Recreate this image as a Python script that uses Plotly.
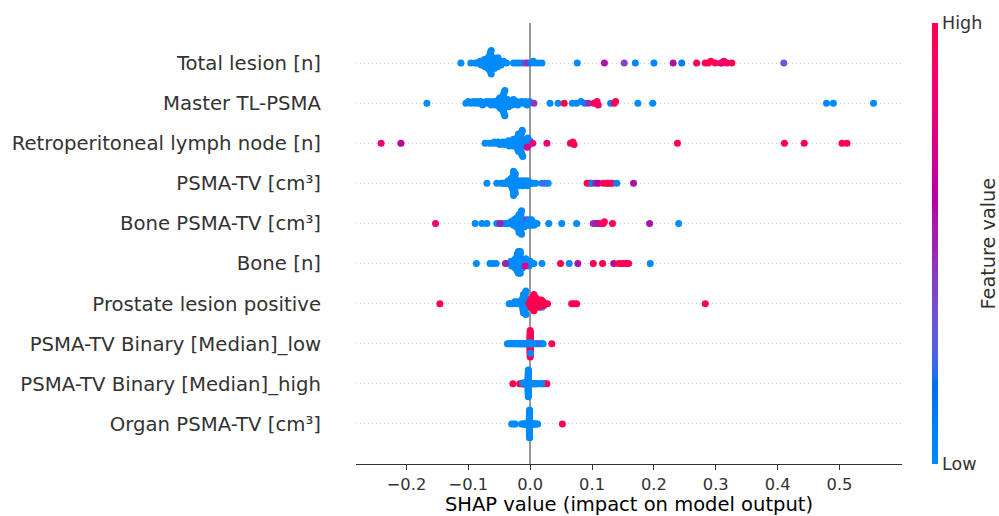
import numpy as np
import plotly.graph_objects as go

# ---------------- data ----------------
features = [
    "Total lesion [n]",
    "Master TL-PSMA",
    "Retroperitoneal lymph node [n]",
    "PSMA-TV [cm³]",
    "Bone PSMA-TV [cm³]",
    "Bone [n]",
    "Prostate lesion positive",
    "PSMA-TV Binary [Median]_low",
    "PSMA-TV Binary [Median]_high",
    "Organ PSMA-TV [cm³]",
]

x_ticks = [-0.2, -0.1, 0.0, 0.1, 0.2, 0.3, 0.4, 0.5]
x_tick_labels = ["−0.2", "−0.1", "0.0", "0.1", "0.2", "0.3", "0.4", "0.5"]

total_lesion_shap = [
    -0.089, -0.086, -0.083, -0.081, -0.079, -0.078, -0.076, -0.075, -0.074, -0.073,
    -0.072, -0.071, -0.070, -0.070, -0.069, -0.068, -0.068, -0.067, -0.067, -0.066,
    -0.066, -0.066, -0.066, -0.065, -0.065, -0.065, -0.065, -0.064, -0.064, -0.063,
    -0.063, -0.062, -0.062, -0.061, -0.060, -0.060, -0.059, -0.058, -0.057, -0.056,
    -0.055, -0.054, -0.053, -0.052, -0.050, -0.049, -0.047, -0.045, -0.043,
    -0.038, -0.027, -0.022, -0.018, -0.013, -0.008, -0.004, 0.001, 0.005, 0.008, 0.013,
    -0.112, -0.096,
    0.019, 0.076, 0.120, 0.152, 0.170, 0.200, 0.231, 0.245, 0.269, 0.283,
    0.288, 0.292, 0.299, 0.308, 0.310, 0.313, 0.318, 0.326, 0.410,
]
total_lesion_feat = [
    0, 0, 0, 0, 0, 0, 0, 0, 0, 0,
    0, 0, 0, 0, 0, 0, 0, 0, 0, 0,
    0, 0, 0, 0, 0, 0, 0, 0, 0, 0,
    0, 0, 0, 0, 0, 0, 0, 0, 0, 0,
    0, 0, 0, 0, 0, 0, 0, 0, 0,
    0, 0, 0, 0, 0, 0.4, 0.45, 0.1, 0, 0, 0,
    0, 0,
    0, 0, 0.55, 0.4, 0.05, 0.05, 0.55, 0.1, 1, 1,
    0.95, 1, 0.95, 0.85, 0.8, 0.9, 0.95, 1, 0.3,
]

master_shap = [
    -0.104, -0.100, -0.096, -0.092, -0.089, -0.086, -0.083, -0.080, -0.077,
    -0.074, -0.071, -0.068, -0.065, -0.063, -0.061, -0.059, -0.057, -0.055, -0.054,
    -0.052, -0.051, -0.050, -0.049, -0.048, -0.047, -0.046, -0.046, -0.045, -0.045,
    -0.044, -0.044, -0.044, -0.043, -0.043, -0.043, -0.042, -0.042, -0.041, -0.041,
    -0.040, -0.039, -0.038, -0.037, -0.035, -0.033, -0.031, -0.029, -0.027, -0.025,
    -0.022, -0.020, -0.017, -0.014, -0.011, -0.008, -0.005, -0.003, -0.001,
    -0.167, 0.006, 0.032, 0.045, 0.055, 0.068, 0.075, 0.082, 0.088, 0.094,
    0.103, 0.106, 0.108, 0.110, 0.130, 0.136, 0.138, 0.174, 0.198, 0.479,
    0.490, 0.555,
]
master_feat = [
    0, 0, 0, 0, 0, 0, 0, 0, 0,
    0, 0, 0, 0, 0, 0, 0, 0, 0, 0,
    0, 0, 0, 0, 0, 0, 0, 0, 0, 0,
    0, 0, 0, 0, 0, 0, 0, 0, 0, 0,
    0, 0, 0, 0, 0, 0, 0, 0, 0, 0,
    0, 0, 0, 0, 0, 0, 0, 0, 0,
    0, 0.45, 0, 0, 1, 0, 0, 0, 0.05, 0.45,
    1, 0.95, 1, 0.9, 0.05, 0.95, 1, 0, 0, 0,
    0, 0,
]

retro_shap = [
    -0.073, -0.066, -0.061, -0.058, -0.055, -0.052, -0.049, -0.046, -0.044, -0.042,
    -0.040, -0.038, -0.036, -0.035, -0.034, -0.032, -0.031,
    -0.030, -0.029, -0.028, -0.027, -0.026, -0.025, -0.024, -0.023,
    -0.022, -0.022, -0.021, -0.021, -0.020, -0.020, -0.020, -0.019, -0.019, -0.019,
    -0.018, -0.018, -0.018, -0.018, -0.017, -0.017, -0.017, -0.017,
    -0.016, -0.016, -0.016, -0.016, -0.015, -0.015, -0.015,
    -0.014, -0.014, -0.013, -0.013, -0.013, -0.012, -0.011, -0.010,
    -0.009, -0.008, -0.007, -0.006, -0.004, -0.003, -0.002, -0.001, -0.0005,
    -0.241, -0.209, -0.005, 0.004, 0.027, 0.065, 0.069, 0.071, 0.238, 0.411,
    0.443, 0.504, 0.512,
]
retro_feat = [
    0, 0, 0, 0, 0, 0, 0, 0, 0, 0,
    0, 0, 0, 0, 0, 0, 0,
    0, 0, 0, 0, 0, 0, 0, 0,
    0, 0, 0, 0, 0, 0, 0, 0, 0, 0,
    0, 0, 0, 0, 0, 0, 0, 0,
    0, 0, 0, 0, 0, 0, 0,
    0, 0, 0, 0, 0, 0, 0, 0,
    0, 0, 0, 0, 0, 0, 0, 0, 0,
    0.85, 0.6, 0.7, 0.8, 0.85, 1, 0.95, 1, 1, 1,
    1, 1, 1,
]

psma_tv_shap = [
    -0.047, -0.044, -0.042, -0.040, -0.038, -0.036, -0.035, -0.034, -0.033, -0.032,
    -0.031, -0.031, -0.030, -0.030, -0.029, -0.029, -0.029, -0.028, -0.028, -0.028, -0.028,
    -0.027, -0.027, -0.027, -0.027, -0.027, -0.027, -0.027,
    -0.026, -0.026, -0.026, -0.026, -0.025, -0.025, -0.025, -0.024, -0.024, -0.023, -0.023,
    -0.022, -0.021, -0.020, -0.019, -0.018, -0.017, -0.016, -0.015, -0.014, -0.013,
    -0.012, -0.011, -0.010, -0.009, -0.008, -0.007, -0.006, -0.005, -0.004, -0.003,
    -0.001, 0.002, 0.005, 0.009,
    -0.070, -0.054, 0.019, 0.024, 0.029, 0.092, 0.097, 0.100, 0.106, 0.110,
    0.118, 0.123, 0.126, 0.129, 0.133, 0.140, 0.167,
]
psma_tv_feat = [
    0, 0, 0, 0, 0, 0, 0, 0, 0, 0,
    0, 0, 0, 0, 0, 0, 0, 0, 0, 0, 0,
    0, 0, 0, 0, 0, 0, 0,
    0, 0, 0, 0, 0, 0, 0, 0, 0, 0, 0,
    0, 0, 0, 0, 0, 0, 0, 0, 0, 0,
    0, 0, 0, 0, 0, 0, 0, 0, 0, 0,
    0, 0, 0, 0,
    0, 0, 0, 0.3, 0, 1, 0.95, 0.05, 0.5, 0.6,
    1, 0.95, 1, 1, 0.9, 0.05, 0.55,
]

bone_psma_tv_shap = [
    -0.045, -0.041, -0.038, -0.035, -0.033, -0.031, -0.029, -0.028, -0.027, -0.026,
    -0.025, -0.024, -0.023, -0.023, -0.022, -0.022, -0.021, -0.021, -0.020, -0.020,
    -0.019, -0.019, -0.019, -0.018, -0.018, -0.018, -0.018,
    -0.017, -0.017, -0.017, -0.017, -0.017,
    -0.016, -0.016, -0.016, -0.016, -0.015, -0.015, -0.015, -0.014, -0.014, -0.013, -0.013,
    -0.012, -0.011, -0.010, -0.009, -0.008, -0.007, -0.006, -0.005, -0.004, -0.003,
    -0.002, -0.001, 0.000, 0.001, 0.002, 0.003, 0.004, 0.006,
    -0.153, -0.089, -0.078, -0.070, -0.054, -0.049, 0.011, 0.030, 0.051, 0.075,
    0.102, 0.106, 0.110, 0.115, 0.118, 0.120, 0.133, 0.193, 0.240,
]
bone_psma_tv_feat = [
    0, 0, 0, 0, 0, 0, 0, 0, 0, 0,
    0, 0, 0, 0, 0, 0, 0, 0, 0, 0,
    0, 0, 0, 0, 0, 0, 0,
    0, 0, 0, 0, 0,
    0, 0, 0, 0, 0, 0, 0, 0, 0, 0, 0,
    0, 0, 0, 0, 0, 0, 0.45, 0, 0, 0,
    0, 0, 0, 0, 0, 0, 0, 0,
    0.85, 0, 0, 0, 0, 0.5, 0, 0, 0, 0,
    0.45, 0.5, 0.55, 0.9, 1, 0.95, 1, 0.55, 0,
]

bone_shap = [
    -0.036, -0.034, -0.032, -0.031, -0.030, -0.029, -0.028, -0.027, -0.026,
    -0.025, -0.025, -0.024, -0.024, -0.023, -0.023,
    -0.022, -0.022, -0.022, -0.021, -0.021, -0.021,
    -0.020, -0.020, -0.020, -0.020,
    -0.019, -0.019, -0.019, -0.019, -0.019, -0.019,
    -0.018, -0.018, -0.018, -0.018,
    -0.017, -0.017, -0.017, -0.016, -0.016, -0.016,
    -0.015, -0.015, -0.014, -0.014,
    -0.013, -0.012, -0.011, -0.010, -0.009, -0.008, -0.007, -0.006, -0.005, -0.004,
    -0.003, -0.002, -0.001, 0.000, 0.002,
    -0.087, -0.065, -0.060, -0.055, -0.040, -0.008, 0.006, 0.019, 0.049, 0.063,
    0.077, 0.102, 0.117, 0.135, 0.143, 0.148, 0.151, 0.155, 0.159, 0.194,
]
bone_feat = [
    0, 0, 0, 0, 0, 0, 0, 0, 0,
    0, 0, 0, 0, 0, 0,
    0, 0, 0, 0, 0, 0,
    0, 0, 0, 0,
    0, 0, 0, 0, 0, 0,
    0, 0, 0, 0,
    0, 0, 0, 0, 0, 0,
    0, 0, 0, 0,
    0, 0, 0, 0, 0, 0, 0, 0, 0, 0,
    0, 0, 0, 0, 0,
    0, 0, 0, 0, 0.5, 0.7, 0, 0, 1, 0,
    0.55, 1, 1, 0.6, 1, 0.95, 1, 1, 1, 0,
]

prostate_shap = [
    -0.034, -0.031, -0.028, -0.025, -0.022, -0.020, -0.018, -0.016,
    -0.015, -0.014, -0.013, -0.013, -0.012, -0.012, -0.012,
    -0.011, -0.011, -0.011, -0.011, -0.010, -0.010, -0.010, -0.010, -0.010,
    -0.009, -0.009, -0.009, -0.009, -0.008, -0.008, -0.008,
    -0.007, -0.007, -0.006, -0.006, -0.005, -0.004, -0.003, 0.012, 0.015, 0.019,
    -0.002, 0.000, 0.001, 0.002, 0.003, 0.003, 0.004, 0.004, 0.005, 0.005,
    0.006, 0.006, 0.007, 0.007, 0.008, 0.008, 0.009, 0.010, 0.011, 0.012,
    0.013, 0.014, 0.016, 0.017, 0.018, 0.020, 0.021, 0.022, 0.024, 0.001,
    0.003, 0.005, 0.000,
    -0.146, 0.028, 0.067, 0.071, 0.075, 0.283,
]
prostate_feat = [
    0, 0, 0, 0, 0, 0, 0, 0,
    0, 0, 0, 0, 0, 0, 0,
    0, 0, 0, 0, 0, 0, 0, 0, 0,
    0, 0, 0, 0, 0, 0, 0,
    0, 0, 0, 0, 0, 0, 0, 0, 0, 0,
    1, 1, 1, 1, 1, 1, 1, 1, 1, 1,
    1, 1, 1, 1, 1, 1, 1, 1, 1, 1,
    1, 1, 1, 1, 1, 1, 1, 1, 1, 1,
    1, 1, 1,
    1, 1, 1, 0.95, 1, 1,
]

binary_low_shap = [
    0.0000, 0.0001, -0.0001, 0.0002, -0.0002, 0.0000, 0.0001, -0.0001, 0.0003, -0.0003,
    0.0000, 0.0002, -0.0002, 0.0001, -0.0001, 0.0004, -0.0004, 0.0000, 0.0003, -0.0003,
    0.0001, -0.0001, 0.0002, -0.0002, 0.0000, 0.0001, -0.0001, 0.0003, -0.0003, 0.0000,
    0.0002, -0.0002, 0.0001, -0.0001, 0.0000, 0.0002, 0.0001, -0.0001, 0.0000, 0.035,
    -0.037, -0.034, -0.032, -0.030, -0.028, -0.026, -0.024, -0.022, -0.021, -0.019,
    -0.018, -0.016, -0.015, -0.014, -0.013, -0.012, -0.011, -0.010, -0.009, -0.008,
    -0.007, -0.006, -0.005, -0.004, -0.003, -0.002,
    -0.0012, -0.0008, 0.0006, 0.0009, 0.0012, 0.0016,
    0.004, 0.006, 0.009, 0.011, 0.013, 0.016, 0.019, 0.021,
]
binary_low_feat = [
    1, 1, 1, 1, 1, 1, 1, 1, 1, 1,
    1, 1, 1, 1, 1, 1, 1, 1, 1, 1,
    1, 1, 1, 1, 1, 1, 1, 1, 1, 1,
    1, 1, 1, 1, 1, 1, 1, 1, 1, 1,
    0, 0, 0, 0, 0, 0, 0, 0, 0, 0,
    0, 0, 0, 0, 0, 0, 0, 0, 0, 0,
    0, 0, 0, 0, 0, 0,
    0, 0, 0, 0, 0, 0,
    0, 0, 0, 0, 0, 0.3, 0, 0,
]

binary_high_shap = [
    -0.0033, -0.0033, -0.0033, -0.0033, -0.0033, -0.0033, -0.0033, -0.0033, -0.0033, -0.0033,
    -0.028, -0.017, -0.015, -0.013, -0.012, -0.011, -0.010, -0.009, -0.008, -0.008,
    -0.007, -0.006, -0.006, -0.005, -0.005, -0.004, -0.004, -0.002, -0.002, -0.001,
    -0.001, 0.000, 0.001, 0.003, 0.005, 0.007, 0.010, 0.021, 0.024, 0.027,
    -0.0030, -0.0031, -0.0032, -0.0030, -0.0031, -0.0032, -0.0030, -0.0031, -0.0032, -0.0030,
    -0.0031, -0.0032, -0.0030, -0.0031, -0.0032, -0.0030, -0.0031, -0.0032, -0.0030, -0.0031,
    -0.0032, -0.0030, -0.0031, -0.0032, -0.0030, -0.0031, -0.0032, -0.0030,
    -0.012, -0.009, -0.007, -0.005,
    0.002, 0.004, 0.006, 0.008, 0.011, 0.013, 0.016, 0.019,
]
binary_high_feat = [
    1, 1, 1, 1, 1, 1, 1, 1, 1, 1,
    1, 1, 1, 1, 1, 1, 1, 1, 1, 1,
    1, 1, 1, 1, 1, 1, 1, 1, 1, 1,
    1, 1, 1, 1, 1, 1, 1, 1, 1, 1,
    0, 0, 0, 0, 0, 0, 0, 0, 0, 0,
    0, 0, 0, 0, 0, 0, 0, 0, 0, 0,
    0, 0, 0, 0, 0, 0, 0, 0,
    0, 0, 0, 0,
    0, 0, 0, 0, 0, 0, 0, 0,
]

organ_shap = [
    -0.0010, -0.0011, -0.0012, -0.0013, -0.0014, -0.0015, -0.0010, -0.0011, -0.0012, -0.0013,
    -0.0014, -0.0015, -0.0010, -0.0011, -0.0012, -0.0013, -0.0014, -0.0015, -0.0010, -0.0011,
    -0.0012, -0.0013, -0.0014, -0.0015, -0.0010, -0.0011, -0.0012, -0.0013, -0.0014, -0.0015,
    -0.0010, -0.0011, -0.0012, -0.0013, -0.0014, -0.0015, -0.0010, -0.0011, -0.0012, -0.0013,
    -0.0014, -0.0015, -0.0010, -0.0011, -0.0012, -0.0013, -0.0014, -0.0015, -0.0012,
    -0.014, -0.012, -0.010, -0.009, -0.008, -0.007, -0.006, -0.005, -0.004, -0.004,
    -0.003, -0.003, -0.002, -0.002, 0.000, 0.000, 0.001, 0.001, 0.002, 0.003,
    0.004, 0.005, 0.006, 0.007, 0.008, 0.010, 0.012,
    -0.030, -0.027, -0.024, 0.052,
]
organ_feat = [
    0, 0, 0, 0, 0, 0, 0, 0, 0, 0,
    0, 0, 0, 0, 0, 0, 0, 0, 0, 0,
    0, 0, 0, 0, 0, 0, 0, 0, 0, 0,
    0, 0, 0, 0, 0, 0, 0, 0, 0, 0,
    0, 0, 0, 0, 0, 0, 0, 0, 0,
    0, 0, 0, 0, 0, 0, 0, 0, 0, 0,
    0, 0, 0, 0, 0, 0, 0, 0, 0, 0,
    0, 0, 0, 0, 0, 0, 0,
    0, 0, 0, 1,
]

rows = [
    (total_lesion_shap, total_lesion_feat),
    (master_shap, master_feat),
    (retro_shap, retro_feat),
    (psma_tv_shap, psma_tv_feat),
    (bone_psma_tv_shap, bone_psma_tv_feat),
    (bone_shap, bone_feat),
    (prostate_shap, prostate_feat),
    (binary_low_shap, binary_low_feat),
    (binary_high_shap, binary_high_feat),
    (organ_shap, organ_feat),
]


# ---------------- SHAP red_blue colormap (LCh interpolation) ----------------
def lch_to_rgb(L, C, H):
    a = C * np.cos(H)
    b = C * np.sin(H)
    fy = (L + 16.0) / 116.0
    fx = fy + a / 500.0
    fz = fy - b / 200.0

    def finv(t):
        return t ** 3 if t > 6.0 / 29.0 else 3 * (6.0 / 29.0) ** 2 * (t - 4.0 / 29.0)

    X = 0.95047 * finv(fx)
    Y = 1.00000 * finv(fy)
    Z = 1.08883 * finv(fz)
    r = 3.2406 * X - 1.5372 * Y - 0.4986 * Z
    g = -0.9689 * X + 1.8758 * Y + 0.0415 * Z
    bl = 0.0557 * X - 0.2040 * Y + 1.0570 * Z

    def gam(c):
        c = 1.055 * c ** (1 / 2.4) - 0.055 if c > 0.0031308 else 12.92 * c
        return min(max(c, 0.0), 1.0)

    return tuple(int(round(255 * gam(c))) for c in (r, g, bl))


blue_lch = [54.0, 70.0, 4.6588]
red_lch = [54.0, 90.0, 0.35470565 + 2 * np.pi]
l_mid = 40.0
nsteps = 100
l_vals = list(np.linspace(blue_lch[0], l_mid, nsteps // 2)) + list(np.linspace(l_mid, red_lch[0], nsteps // 2))
c_vals = np.linspace(blue_lch[1], red_lch[1], nsteps)
h_vals = np.linspace(blue_lch[2], red_lch[2], nsteps)
colorscale = []
for pos, l, c, h in zip(np.linspace(0, 1, nsteps), l_vals, c_vals, h_vals):
    rr, gg, bb = lch_to_rgb(l, c, h)
    colorscale.append([float(pos), f"rgb({rr},{gg},{bb})"])


# ---------------- beeswarm offsets (as in shap) ----------------
def beeswarm_offsets(vals, nbins=100, row_height=0.4):
    vals = np.asarray(vals, dtype=float)
    quant = np.round(nbins * (vals - vals.min()) / (vals.max() - vals.min() + 1e-8))
    inds = np.lexsort((vals, quant))
    layer = 0
    last_bin = -1
    ys = np.zeros(len(vals))
    for ind in inds:
        if quant[ind] != last_bin:
            layer = 0
        ys[ind] = np.ceil(layer / 2) * ((layer % 2) * 2 - 1)
        layer += 1
        last_bin = quant[ind]
    ys *= 0.9 * (row_height / np.max(ys + 1))
    return ys


n_rows = len(features)
fig = go.Figure()
for i, (sv, fv) in enumerate(rows):
    pos = n_rows - 1 - i
    offs = beeswarm_offsets(sv)
    fig.add_trace(go.Scatter(
        x=sv,
        y=pos + offs,
        mode="markers",
        marker=dict(size=7, color=fv, coloraxis="coloraxis", line=dict(width=0), opacity=1),
        showlegend=False,
        hoverinfo="x",
    ))

FIG_W, FIG_H = 999, 516
L_M, R_M, T_M, B_M = 356, 97, 23, 52
plot_w = FIG_W - L_M - R_M

fig.update_layout(
    width=FIG_W,
    height=FIG_H,
    margin=dict(l=L_M, r=R_M, t=T_M, b=B_M, autoexpand=False),
    paper_bgcolor="white",
    plot_bgcolor="white",
    font=dict(family="DejaVu Sans", color="#333333"),
    coloraxis=dict(
        colorscale=colorscale,
        cmin=0,
        cmax=1,
        colorbar=dict(
            thickness=6,
            thicknessmode="pixels",
            len=1.0,
            lenmode="fraction",
            x=(932 - L_M) / plot_w,
            xanchor="left",
            xpad=0,
            y=0.5,
            yanchor="middle",
            ypad=0,
            outlinewidth=0,
            tickvals=[0, 1],
            ticktext=["Low", "High"],
            ticks="",
            tickfont=dict(size=17.5, color="#333333", family="DejaVu Sans"),
        ),
    ),
    annotations=[dict(
        text="Feature value",
        xref="paper", yref="paper",
        x=(988 - L_M) / plot_w, y=0.5,
        xanchor="center", yanchor="middle",
        textangle=-90,
        showarrow=False,
        font=dict(size=19.3, color="#333333", family="DejaVu Sans"),
    )],
    xaxis=dict(
        range=[-0.2816, 0.601],
        tickvals=x_ticks,
        ticktext=x_tick_labels,
        tickfont=dict(size=16.3, color="#333333"),
        ticks="outside",
        ticklen=5,
        tickcolor="#333333",
        showline=True,
        linecolor="#333333",
        linewidth=1,
        showgrid=False,
        zeroline=True,
        zerolinecolor="#999999",
        zerolinewidth=2,
        title=dict(text="SHAP value (impact on model output)",
                   font=dict(size=19.5, color="black"), standoff=16),
    ),
    yaxis=dict(
        range=[-1, n_rows],
        tickvals=list(range(n_rows)),
        ticktext=features[::-1],
        tickfont=dict(size=19.7, color="#333333"),
        ticks="outside",
        ticklen=30,
        tickcolor="rgba(0,0,0,0)",
        showline=False,
        showgrid=True,
        gridcolor="#cccccc",
        gridwidth=1,
        griddash="1px,3px",
        zeroline=False,
    ),
)

# remove the browser's default page margin so the 999x516 figure fills the window exactly
fig.write_html(
    "out.html",
    config={"displayModeBar": False},
    post_script="document.body.style.margin='0px';document.body.style.overflow='hidden';",
)
